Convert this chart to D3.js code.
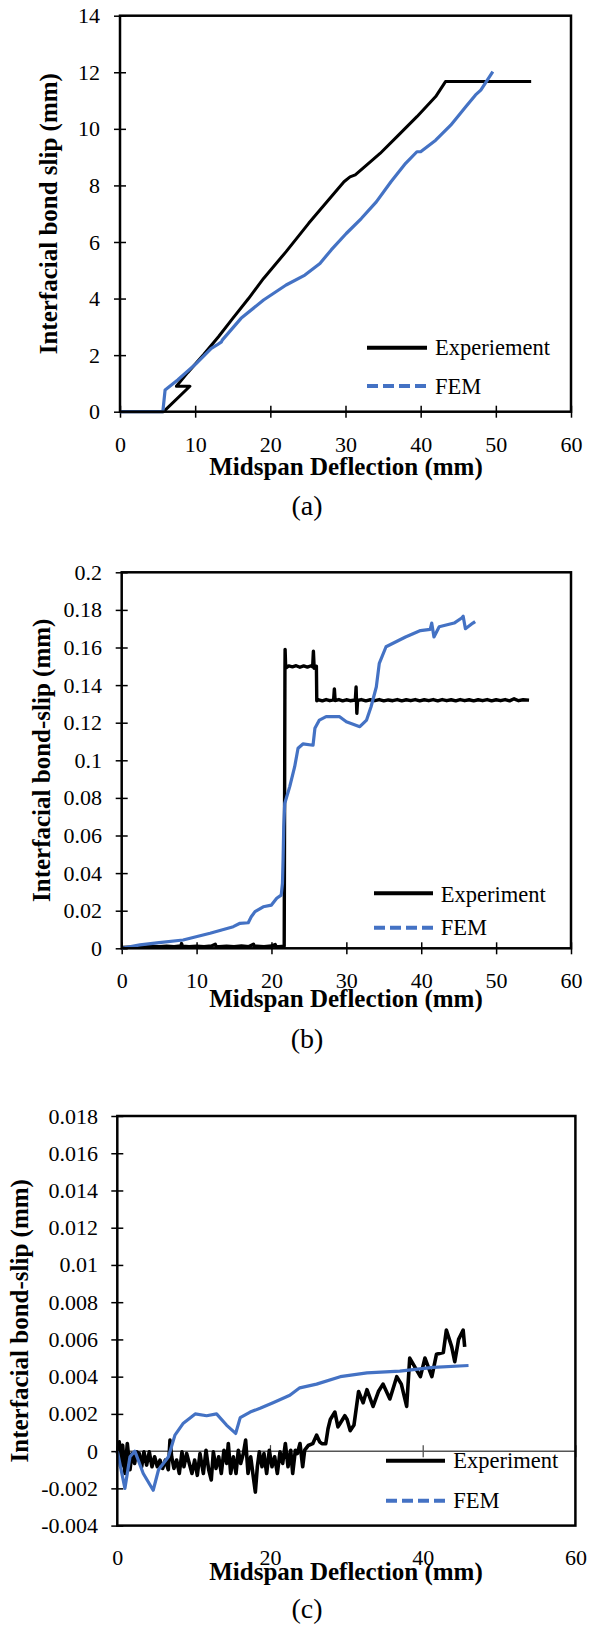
<!DOCTYPE html>
<html lang="en">
<head>
<meta charset="UTF-8">
<title>Interfacial bond slip vs midspan deflection</title>
<script src="https://d3js.org/d3.v7.min.js"></script>
<style>
  body { margin: 0; background: #fff; }
  svg { display: block; }
  svg text { font-family: "Liberation Serif", "Times New Roman", serif; fill: #000; }
  .tick text { font-size: 22px; }
</style>
</head>
<body>
<svg id="chart" width="589" height="1628"></svg>
<script>
// ---- panel (a) ----
const xTicksA = [0, 10, 20, 30, 40, 50, 60];
const yTicksA = [0, 2, 4, 6, 8, 10, 12, 14];
const expA = [[0,0],[5.8,0],[9.3,0.9],[7.5,0.9],[9,1.38],[11.16,2.03],[13.1,2.65],[15,3.3],[17.1,4.0],[19.1,4.71],
  [22.1,5.66],[25.1,6.66],[28.1,7.6],[29.8,8.13],[30.6,8.3],[31.3,8.37],[32.8,8.72],[34.6,9.13],[37.05,9.78],
  [39.5,10.43],[42.0,11.14],[43.3,11.67],[54.7,11.67]];
const femA = [[0,0],[5.7,0],[6.0,0.77],[7.67,1.12],[10.16,1.71],[12.15,2.24],[12.9,2.36],[13.5,2.47],[13.6,2.53],
  [16.1,3.3],[19.1,3.95],[22.1,4.48],[24.6,4.83],[26.6,5.24],[28.1,5.72],[30.1,6.3],[32.1,6.83],[34.1,7.42],
  [36.05,8.13],[38.0,8.78],[39.5,9.19],[40.0,9.19],[42.0,9.6],[44.0,10.13],[46.0,10.78],[47.3,11.2],[48.0,11.37],[49.6,12.02]];

// ---- panel (b) ----
const xTicksB = [0, 10, 20, 30, 40, 50, 60];
const yTicksB = [0, 0.02, 0.04, 0.06, 0.08, 0.1, 0.12, 0.14, 0.16, 0.18, 0.2];
const expB = [[0,0.0004],[1,0.0006],[2,0.0008],[3,0.0007],[4,0.0010],[5,0.0008],[6,0.0011],[7,0.0009],[7.9,0.0012],
  [8.0,0.0025],[8.1,0.0011],[9,0.0009],[10,0.0011],[11,0.0008],[12,0.0012],[12.5,0.0022],[12.6,0.0010],[13,0.0009],
  [14,0.0011],[15,0.0008],[16,0.0012],[17,0.0009],[17.6,0.0022],[17.7,0.0010],[18,0.0011],[19,0.0009],[20,0.0012],
  [20.5,0.0020],[20.6,0.0010],[21,0.0009],[21.7,0.0011],
  [21.8,0.148],[21.82,0.159],[21.9,0.149],[22.3,0.1502],[22.8,0.1497],[23.3,0.1503],[23.8,0.1495],[24.3,0.1502],
  [24.8,0.1496],[25.3,0.1503],[25.5,0.1497],[25.6,0.158],[25.7,0.149],[25.9,0.1502],[26.0,0.150],[26.05,0.1317],
  [26.3,0.1322],[26.8,0.1316],[27.3,0.1323],[27.8,0.1317],[28.3,0.1321],[28.4,0.138],[28.5,0.1318],[29,0.1323],
  [29.5,0.1316],[30,0.1322],[30.5,0.1317],[31.2,0.1321],[31.3,0.139],[31.4,0.125],[31.5,0.1318],[32,0.1323],
  [32.6,0.1316],[33.2,0.1322],[33.8,0.1317],[34.4,0.1323],[35,0.1316],[35.6,0.1321],[36.2,0.1317],[36.8,0.1323],
  [37.4,0.1316],[38,0.1322],[38.6,0.1317],[39.2,0.1323],[39.8,0.1316],[40.4,0.1322],[41,0.1317],[41.6,0.1323],
  [42.2,0.1316],[42.8,0.1323],[43.4,0.1317],[44,0.1322],[44.6,0.1316],[45.2,0.1323],[45.8,0.1317],[46.4,0.1322],
  [47,0.1316],[47.6,0.1322],[48.2,0.1317],[48.8,0.1323],[49.4,0.1316],[50,0.1322],[50.6,0.1317],[51.2,0.1323],
  [51.8,0.1316],[52.4,0.1327],[53,0.1317],[53.6,0.1322],[54.4,0.1320]];
const femB = [[0,0],[2.44,0.0018],[5,0.003],[8.2,0.0044],[11.8,0.008],[14.9,0.0115],[15.8,0.0133],[16.9,0.0136],
  [17.3,0.0168],[17.8,0.0195],[18.9,0.0221],[20,0.023],[20.7,0.0266],[21.3,0.0283],[21.47,0.0346],[21.55,0.047],
  [21.64,0.0647],[21.77,0.077],[22.44,0.086],[23.1,0.0966],[23.55,0.1064],[24.2,0.1087],[25.55,0.108],[25.8,0.117],
  [26.4,0.1214],[27.3,0.1232],[29.1,0.1232],[30.0,0.1205],[31.8,0.1179],[32.7,0.1214],[33.3,0.1285],[34.0,0.139],
  [34.4,0.1516],[35.3,0.1604],[36.9,0.1636],[37.9,0.1656],[39.9,0.169],[41.2,0.1696],[41.4,0.173],[41.7,0.1656],
  [42.4,0.171],[44.4,0.173],[45.4,0.1757],[45.6,0.1766],[45.9,0.170],[46.9,0.173],[47.2,0.1738]];

// ---- panel (c) ----
const xTicksC = [0, 20, 40, 60];
const yTicksC = [-0.004, -0.002, 0, 0.002, 0.004, 0.006, 0.008, 0.01, 0.012, 0.014, 0.016, 0.018];
const expC = [[0,-0.00013],[0.26,0.0005],[0.44,-0.00084],[0.7,0.00032],[1.0,-0.0012],[1.31,0.00041],[1.66,-0.001],
  [1.92,-0.00013],[2.27,-0.00066],[2.53,-0.00004],[2.88,-0.00013],[3.19,-0.00084],[3.49,-0.00004],[3.84,-0.00075],
  [4.19,-0.00004],[4.54,-0.00084],[4.89,-0.0003],[5.24,-0.00084],[5.59,-0.00048],[5.94,-0.00093],[6.29,-0.00048],
  [6.68,-0.001],[6.9,0.00059],[7.12,-0.0003],[7.42,-0.00093],[7.77,-0.00048],[8.12,-0.0012],[8.47,-0.00004],
  [8.73,-0.00084],[9.08,-0.00013],[9.43,-0.00066],[9.78,-0.0012],[10.13,-0.00048],[10.48,-0.0013],[10.83,-0.00013],
  [11.27,-0.0012],[11.62,0.00005],[11.97,-0.001],[12.31,-0.00155],[12.58,-0.00004],[12.93,-0.00093],[13.28,-0.0003],
  [13.62,-0.0012],[13.97,0.00005],[14.32,-0.00066],[14.54,0.00041],[14.85,-0.0012],[15.2,-0.0003],[15.55,-0.0012],
  [15.85,0.00005],[16.16,-0.00066],[16.51,-0.00013],[16.81,0.00059],[17.12,-0.0012],[17.47,-0.0003],[17.82,-0.0014],
  [18.08,-0.0022],[18.34,-0.00084],[18.6,-0.00004],[18.95,-0.00084],[19.21,-0.00013],[19.56,-0.0012],[19.91,0.00005],
  [20.26,-0.00084],[20.61,-0.0003],[20.96,-0.0012],[21.31,-0.00004],[21.66,-0.00066],[22.01,0.00041],[22.36,-0.00084],
  [22.71,0.00005],[22.97,-0.0012],[23.32,0.00005],[23.58,-0.00013],[23.93,0.00041],[24.28,-0.00084],[24.54,0.00005],
  [25.0,0.0003],[25.6,0.0004],[26.1,0.00086],[26.5,0.0005],[26.8,0.0004],[27.3,0.0004],[27.6,0.0012],[27.9,0.0017],
  [28.5,0.0021],[28.9,0.0013],[29.2,0.0015],[29.8,0.0019],[30.1,0.0017],[30.5,0.0011],[31.0,0.0014],[31.6,0.0032],
  [32.2,0.0026],[32.7,0.0033],[33.5,0.0024],[34.2,0.0032],[34.8,0.0036],[35.7,0.0028],[36.6,0.004],[37.2,0.0036],
  [37.9,0.0024],[38.3,0.005],[39.0,0.0045],[39.7,0.004],[40.3,0.005],[41.2,0.004],[41.8,0.0052],[42.7,0.0053],
  [43.1,0.0065],[43.8,0.0056],[44.2,0.0048],[44.7,0.006],[45.3,0.0065],[45.5,0.0056]];
const femC = [[0,0],[1.0,-0.002],[1.66,-0.0003],[2.3,0],[3.4,-0.0012],[4.7,-0.0021],[5.4,-0.001],[6.7,-0.0003],
  [7.55,0.00086],[8.65,0.0015],[10.2,0.002],[11.7,0.0019],[13.0,0.002],[14.3,0.0014],[15.5,0.00095],[16.1,0.0018],
  [17.4,0.0021],[18.7,0.0023],[20.4,0.0026],[22.6,0.003],[23.9,0.0034],[26.1,0.0036],[29.2,0.004],[32.7,0.0042],
  [37.0,0.0043],[41.4,0.0045],[46.0,0.0046]];

const blue = "#4472c4";
const svg = d3.select("#chart");
const fmt = v => String(+v.toFixed(4));

const panels = [
  { exp: expA, fem: femA, xTicks: xTicksA, yTicks: yTicksA, yDomain: [0, 14], expWidth: 3,
    left: 120, right: 571, top: 15.7, bottom: 411.7, zeroAxis: false,
    yLabelRight: 100, xTickBase: 451.7, xTitleBase: 475, yTitleX: 57,
    yTitle: "Interfacial bond slip (mm)", caption: "(a)", captionBase: 515,
    legend: { x1: 367, x2: 427, y1: 347.7, y2: 386, tx: 435, b1: 355, b2: 394, label: "Experiement" } },
  { exp: expB, fem: femB, xTicks: xTicksB, yTicks: yTicksB, yDomain: [0, 0.2], expWidth: 3.4,
    left: 121.7, right: 571, top: 572.3, bottom: 948.3, zeroAxis: false,
    yLabelRight: 102, xTickBase: 988, xTitleBase: 1006.7, yTitleX: 50,
    yTitle: "Interfacial bond-slip (mm)", caption: "(b)", captionBase: 1048,
    legend: { x1: 374, x2: 433, y1: 893.3, y2: 927.7, tx: 440.7, b1: 901.7, b2: 935, label: "Experiment" } },
  { exp: expC, fem: femC, xTicks: xTicksC, yTicks: yTicksC, yDomain: [-0.004, 0.018], expWidth: 3.6,
    left: 117.3, right: 575.4, top: 1116, bottom: 1525.6, zeroAxis: true,
    yLabelRight: 98, xTickBase: 1565, xTitleBase: 1580, yTitleX: 28,
    yTitle: "Interfacial bond-slip (mm)", caption: "(c)", captionBase: 1618,
    legend: { x1: 386, x2: 445, y1: 1460.7, y2: 1500.7, tx: 453.3, b1: 1468.3, b2: 1508.3, label: "Experiment" } }
];

panels.forEach(p => {
  const x = d3.scaleLinear().domain([0, 60]).range([p.left, p.right]);
  const y = d3.scaleLinear().domain(p.yDomain).range([p.bottom, p.top]);
  const g = svg.append("g");

  // y axis with crossing ticks
  g.append("g")
    .attr("transform", `translate(${p.left},0)`)
    .call(d3.axisLeft(y).tickValues(p.yTicks).tickFormat(fmt))
    .attr("font-family", null).attr("font-size", 22)
    .call(a => a.select(".domain").remove())
    .call(a => a.selectAll(".tick line").attr("x1", 6).attr("x2", -6).attr("stroke", "#000").attr("stroke-width", 1.5))
    .call(a => a.selectAll(".tick text").attr("x", p.yLabelRight - p.left).attr("dy", "0.32em"));

  // x axis: at bottom, or on the zero line for panel (c)
  const axisY = p.zeroAxis ? y(0) : p.bottom;
  g.append("g")
    .attr("transform", `translate(0,${axisY})`)
    .call(d3.axisBottom(x).tickValues(p.xTicks).tickFormat(fmt))
    .attr("font-family", null).attr("font-size", 22)
    .call(a => a.select(".domain").remove())
    .call(a => a.selectAll(".tick line").attr("y1", -6).attr("y2", 6)
      .attr("stroke", p.zeroAxis ? "#444" : "#000").attr("stroke-width", p.zeroAxis ? 1.2 : 1.5))
    .call(a => a.selectAll(".tick text").attr("y", p.xTickBase - axisY).attr("dy", 0));

  if (p.zeroAxis) {
    g.append("line")
      .attr("x1", p.left).attr("x2", p.right)
      .attr("y1", y(0)).attr("y2", y(0))
      .attr("stroke", "#555").attr("stroke-width", 1.5);
  }

  const line = d3.line().x(d => x(d[0])).y(d => y(d[1]));

  g.append("path").datum(p.exp)
    .attr("d", line).attr("fill", "none").attr("stroke", "#000")
    .attr("stroke-width", p.expWidth).attr("stroke-linejoin", "round");
  g.append("path").datum(p.fem)
    .attr("d", line).attr("fill", "none").attr("stroke", blue)
    .attr("stroke-width", 3.2).attr("stroke-linejoin", "round");

  // plot frame
  g.append("rect")
    .attr("x", p.left).attr("y", p.top)
    .attr("width", p.right - p.left).attr("height", p.bottom - p.top)
    .attr("fill", "none").attr("stroke", "#000").attr("stroke-width", 2.5);

  // legend
  const L = p.legend;
  g.append("line").attr("x1", L.x1).attr("x2", L.x2).attr("y1", L.y1).attr("y2", L.y1)
    .attr("stroke", "#000").attr("stroke-width", 4);
  g.append("line").attr("x1", L.x1).attr("x2", L.x2).attr("y1", L.y2).attr("y2", L.y2)
    .attr("stroke", blue).attr("stroke-width", 4).attr("stroke-dasharray", "11,5");
  g.append("text").attr("x", L.tx).attr("y", L.b1).attr("font-size", 22.5).text(L.label);
  g.append("text").attr("x", L.tx).attr("y", L.b2).attr("font-size", 22.5).text("FEM");

  // titles
  g.append("text")
    .attr("x", 346).attr("y", p.xTitleBase)
    .attr("text-anchor", "middle").attr("font-size", 25).attr("font-weight", "bold")
    .text("Midspan Deflection (mm)");
  g.append("text")
    .attr("transform", `translate(${p.yTitleX},${(p.top + p.bottom) / 2}) rotate(-90)`)
    .attr("text-anchor", "middle").attr("font-size", 25).attr("font-weight", "bold")
    .text(p.yTitle);
  g.append("text")
    .attr("x", 307).attr("y", p.captionBase)
    .attr("text-anchor", "middle").attr("font-size", 28)
    .text(p.caption);
});
</script>
</body>
</html>
